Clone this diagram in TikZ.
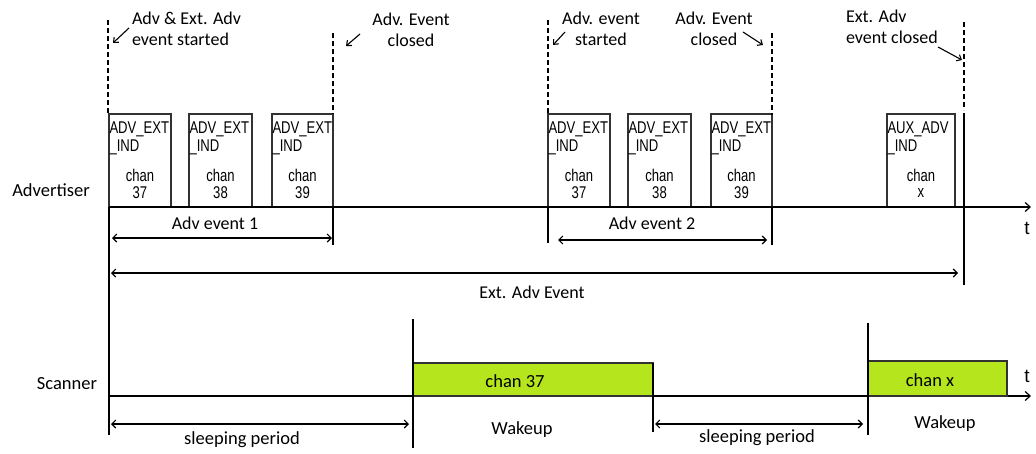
\documentclass[tikz,border=0pt]{standalone}
\usepackage{fontspec}
\setmainfont{Carlito}
\newfontfamily\arialfont{Liberation Sans}
\usetikzlibrary{arrows.meta}

\definecolor{slotgreen}{RGB}{181,230,29}
\definecolor{boxline}{RGB}{50,50,50}

% condensed packet text
\newcommand\narrowtext[1]{\scalebox{0.77}[1]{#1}}

\begin{document}
\begin{tikzpicture}[x=1pt,y=-1pt,
  every node/.style={inner sep=0pt, outer sep=0pt},
  lbl/.style={font=\fontsize{18}{21}\selectfont},
  biglbl/.style={font=\fontsize{18.5}{22}\selectfont},
  pdubox/.style={draw=boxline, line width=1.3pt, rectangle, anchor=south west, minimum height=93pt},
  pdutext/.style={font=\arialfont\fontsize{17}{19}\selectfont},
  axisline/.style={line width=1.2pt, -{Straight Barb[length=5pt,width=9pt]}},
  marker/.style={line width=1.1pt},
  dashmark/.style={line width=1.1pt, dash pattern=on 5pt off 3pt},
  span/.style={line width=1.1pt, {Straight Barb[length=4pt,width=8pt]}-{Straight Barb[length=4pt,width=8pt]}},
  pointer/.style={line width=1.1pt, -{Straight Barb[length=4pt,width=7pt]}},
  slot/.style={draw=boxline, line width=1.3pt, fill=slotgreen, rectangle, anchor=south west}
]
\useasboundingbox (0,0) rectangle (1036,453);

% ---------- time axes ----------
\coordinate (advstart) at (109,207);
\coordinate (advend) at (1031,207);
\coordinate (scnstart) at (109,396);
\coordinate (scnend) at (1031,396);

\node[biglbl] (advlabel) at (51,190) {Advertiser};
\node[biglbl] (scnlabel) at (67,384) {Scanner};
\node[font=\arialfont\fontsize{19}{21}\selectfont] (tadv) at (1027,228) {t};
\node[font=\arialfont\fontsize{19}{21}\selectfont] (tscn) at (1027,376) {t};

% ---------- advertising PDUs ----------
\foreach \n/\l/\w/\a/\b/\c in {
    p1/109/62/ADV\_EXT/\_IND/37,
    p2/189/63/ADV\_EXT/\_IND/38,
    p3/272/61/ADV\_EXT/\_IND/39,
    p4/548/62/ADV\_EXT/\_IND/37,
    p5/628/63/ADV\_EXT/\_IND/38,
    p6/711/61/ADV\_EXT/\_IND/39,
    p7/887/68/AUX\_ADV/\_IND/x}{
  \node[pdubox, minimum width=\w pt] (\n) at (\l,207) {};
  \node[pdutext, anchor=west] (\n-a) at ([xshift=0.5pt,yshift=-15pt]\n.north west) {\narrowtext{\a}};
  \node[pdutext, anchor=west] (\n-b) at ([xshift=0.5pt,yshift=-33pt]\n.north west) {\narrowtext{\b}};
  \node[pdutext] (\n-c) at ([yshift=-61pt]\n.north) {\narrowtext{chan}};
  \node[pdutext] (\n-d) at ([yshift=-79pt]\n.north) {\narrowtext{\c}};
}

\draw[axisline] (advstart) -- (advend);
\draw[axisline] (scnstart) -- (scnend);

% ---------- event boundaries ----------
\coordinate (d1t) at (108,20);   \coordinate (d1b) at (108,114);
\coordinate (d2t) at (333,33);   \coordinate (d2b) at (333,114);
\coordinate (d3t) at (548,20);   \coordinate (d3b) at (548,115);
\coordinate (d4t) at (772,33);   \coordinate (d4b) at (772,115);
\coordinate (d5t) at (964,22);   \coordinate (d5b) at (964,110);
\foreach \k in {1,...,5}{\draw[dashmark] (d\k t) -- (d\k b);}

\coordinate (s1b) at (109,435);
\coordinate (s2t) at (333,207); \coordinate (s2b) at (333,245);
\coordinate (s3t) at (548,207); \coordinate (s3b) at (548,243);
\coordinate (s4t) at (772,207); \coordinate (s4b) at (772,245);
\coordinate (s5t) at (964,113); \coordinate (s5b) at (964,285);
\draw[marker] (advstart) -- (s1b);
\draw[marker] (s2t) -- (s2b);
\draw[marker] (s3t) -- (s3b);
\draw[marker] (s4t) -- (s4b);
\draw[marker] (s5t) -- (s5b);

% ---------- event annotations ----------
\node[lbl, align=left, anchor=west] (n1) at (132,28.5) {Adv \& Ext. Adv\\event started};
\node[lbl, align=center] (n2) at (411,30) {Adv. Event\\closed};
\node[lbl, align=center] (n3) at (601,29) {Adv. event\\started};
\node[lbl, align=center] (n4) at (714,29) {Adv. Event\\closed};
\node[lbl, align=left, anchor=west] (n5) at (846,27) {Ext. Adv\\event closed};

\coordinate (a1s) at (129,28);  \coordinate (a1e) at (113,43);
\coordinate (a2s) at (360,34);  \coordinate (a2e) at (346,46);
\coordinate (a3s) at (565,32);  \coordinate (a3e) at (553,45);
\coordinate (a4s) at (743,32);  \coordinate (a4e) at (763,45);
\coordinate (a5s) at (938,47);  \coordinate (a5e) at (962,60);
\foreach \k in {1,...,5}{\draw[pointer] (a\k s) -- (a\k e);}

% ---------- durations ----------
\coordinate (e1l) at (112,238); \coordinate (e1r) at (332,238);
\coordinate (e2l) at (558,240); \coordinate (e2r) at (767,240);
\coordinate (e3l) at (111,273); \coordinate (e3r) at (958,273);
\draw[span] (e1l) -- (e1r);
\draw[span] (e2l) -- (e2r);
\draw[span] (e3l) -- (e3r);
\node[lbl] (ev1) at (215,223) {Adv event 1};
\node[lbl] (ev2) at (652,223) {Adv event 2};
\node[lbl] (extev) at (532,292) {Ext. Adv Event};

% ---------- scanner windows ----------
\node[slot, minimum width=240pt, minimum height=33pt] (w1) at (413,396) {};
\node[slot, minimum width=139pt, minimum height=35pt] (w2) at (868,396) {};
\node[biglbl] (w1t) at (515,381) {chan 37};
\node[biglbl] (w2t) at (930,380) {chan x};

\coordinate (v1t) at (413,319); \coordinate (v1b) at (413,448);
\coordinate (v2b) at (653,432);
\coordinate (v3t) at (868,323); \coordinate (v3b) at (868,435);
\draw[marker] (v1t) -- (v1b);
\draw[marker] (w1.north east) -- (v2b);
\draw[marker] (v3t) -- (v3b);

\coordinate (sl1l) at (111,424); \coordinate (sl1r) at (409,424);
\coordinate (sl2l) at (655,424); \coordinate (sl2r) at (863,424);
\draw[span] (sl1l) -- (sl1r);
\draw[span] (sl2l) -- (sl2r);
\node[biglbl] (sp1) at (242,440) {sleeping period};
\node[biglbl] (sp2) at (757,438) {sleeping period};
\node[biglbl] (wk1) at (522,430) {Wakeup};
\node[biglbl] (wk2) at (945,424) {Wakeup};
\end{tikzpicture}
\end{document}
